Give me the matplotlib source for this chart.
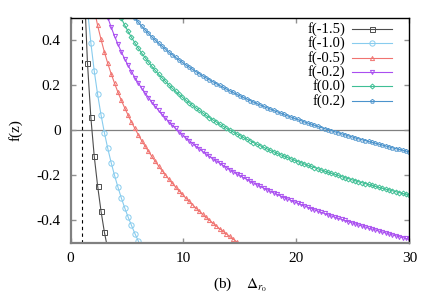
import numpy as np
import matplotlib
matplotlib.use('Agg')
import matplotlib.pyplot as plt

plt.rcParams['font.family'] = ['Liberation Serif', 'DejaVu Serif']
plt.rcParams['mathtext.fontset'] = 'stix'

# sample step along Delta_r0 and the first sample index of every curve
step = 0.3
labels = ['f(-1.5)', 'f(-1.0)', 'f(-0.5)', 'f(-0.2)', 'f(0.0)', 'f(0.2)']
start_idx = [4, 5, 7, 10, 14, 18]

f_m15 = [0.66, 0.300, 0.057, -0.116, -0.248, -0.360, -0.454, -0.530]
f_m10 = [0.540, 0.388, 0.263, 0.158, 0.068, -0.012, -0.082, -0.145, -0.202,
         -0.254, -0.302, -0.346, -0.387, -0.424, -0.460, -0.493, -0.524]
f_m05 = [0.536, 0.465, 0.403, 0.347, 0.296, 0.250, 0.208, 0.168, 0.132, 0.098,
         0.066, 0.035, 0.007, -0.021, -0.047, -0.071, -0.095, -0.117, -0.139,
         -0.160, -0.180, -0.199, -0.218, -0.236, -0.253, -0.270, -0.286, -0.302,
         -0.317, -0.332, -0.347, -0.361, -0.375, -0.388, -0.401, -0.414, -0.426,
         -0.439, -0.450, -0.462, -0.473, -0.485, -0.496, -0.506, -0.517]
f_m02 = [0.548, 0.500, 0.457, 0.417, 0.381, 0.347, 0.316, 0.287, 0.259, 0.233,
         0.209, 0.186, 0.165, 0.144, 0.124, 0.105, 0.087, 0.070, 0.053, 0.037,
         0.022, 0.007, -0.007, -0.021, -0.034, -0.047, -0.060, -0.072, -0.083,
         -0.095, -0.106, -0.117, -0.127, -0.137, -0.147, -0.157, -0.167, -0.176,
         -0.185, -0.194, -0.202, -0.211, -0.219, -0.227, -0.235, -0.243, -0.250,
         -0.258, -0.265, -0.272, -0.279, -0.286, -0.293, -0.300, -0.306, -0.312,
         -0.319, -0.325, -0.331, -0.337, -0.343, -0.349, -0.355, -0.360, -0.366,
         -0.371, -0.377, -0.382, -0.387, -0.392, -0.397, -0.402, -0.407, -0.412,
         -0.417, -0.422, -0.426, -0.431, -0.436, -0.440, -0.444, -0.449, -0.453,
         -0.457, -0.462, -0.466, -0.470, -0.474, -0.478, -0.482, -0.486]
f_00 = [0.528, 0.496, 0.466, 0.438, 0.412, 0.387, 0.364, 0.342, 0.322, 0.302,
        0.283, 0.265, 0.248, 0.232, 0.216, 0.201, 0.186, 0.172, 0.159, 0.146,
        0.133, 0.121, 0.109, 0.098, 0.087, 0.076, 0.065, 0.055, 0.045, 0.036,
        0.026, 0.017, 0.008, 0.000, -0.009, -0.017, -0.025, -0.033, -0.041,
        -0.048, -0.056, -0.063, -0.070, -0.077, -0.084, -0.091, -0.097, -0.104,
        -0.110, -0.116, -0.122, -0.128, -0.134, -0.140, -0.145, -0.151, -0.157,
        -0.162, -0.167, -0.172, -0.178, -0.183, -0.188, -0.193, -0.197, -0.202,
        -0.207, -0.212, -0.216, -0.221, -0.225, -0.230, -0.234, -0.238, -0.242,
        -0.246, -0.251, -0.255, -0.259, -0.263, -0.266, -0.270, -0.274, -0.278,
        -0.282, -0.285, -0.289]
f_02 = [0.517, 0.498, 0.479, 0.462, 0.445, 0.430, 0.414, 0.400, 0.386, 0.373,
        0.360, 0.347, 0.335, 0.323, 0.312, 0.301, 0.290, 0.280, 0.270, 0.260,
        0.250, 0.241, 0.232, 0.223, 0.215, 0.206, 0.198, 0.190, 0.182, 0.174,
        0.167, 0.159, 0.152, 0.145, 0.138, 0.131, 0.124, 0.118, 0.111, 0.105,
        0.099, 0.093, 0.087, 0.081, 0.075, 0.069, 0.063, 0.058, 0.052, 0.047,
        0.042, 0.036, 0.031, 0.026, 0.021, 0.016, 0.011, 0.006, 0.002, -0.003,
        -0.008, -0.012, -0.017, -0.021, -0.026, -0.030, -0.035, -0.039, -0.043,
        -0.047, -0.051, -0.055, -0.059, -0.063, -0.067, -0.071, -0.075, -0.079,
        -0.083, -0.086, -0.090, -0.094, -0.097]

series = [f_m15, f_m10, f_m05, f_m02, f_00, f_02]
colors = ['#4d4d4d', '#88ccee', '#f07370', '#a94ef0', '#3fbf95', '#4b93cc']
markers = ['s', 'o', '^', 'v', 'D', 'p']
msizes = [3.6, 3.8, 3.0, 3.0, 2.5, 3.0]

fig = plt.figure(figsize=(4.36, 3.05), dpi=100)
ax = fig.add_axes([0.1617, 0.2049, 0.9388 - 0.1617, 0.9426 - 0.2049])

ax.axhline(0, color='#808080', lw=0.9, zorder=1)
ax.axvline(1, color='black', lw=0.8, ls=(0, (3, 3)), zorder=1)

for lab, k0, ys, c, m, ms in zip(labels, start_idx, series, colors, markers, msizes):
    xs = step * (k0 + np.arange(len(ys)))
    ax.plot(xs, ys, color=c, lw=0.8, marker=m, ms=ms, mfc='none',
            mec=c, mew=0.7, zorder=2)

ax.set_xlim(0, 30)
ax.set_ylim(-0.5, 0.5)
ax.set_xticks([0, 10, 20, 30])
ax.set_xticklabels(['0', '10', '20', '30'])
ax.set_yticks([-0.4, -0.2, 0, 0.2, 0.4])
ax.set_yticklabels(['-0.4', '-0.2', '0', '0.2', '0.4'])
ax.tick_params(direction='in', length=3.5, width=1, color='#909090',
               top=True, right=True, labelsize=11, pad=7)

for side in ['left', 'bottom']:
    ax.spines[side].set_color('#808080')
    ax.spines[side].set_linewidth(1.6)
for side in ['top', 'right']:
    ax.spines[side].set_color('black')
    ax.spines[side].set_linewidth(1.0)

ax.set_ylabel('f(z)', fontsize=11, labelpad=10)
ax.set_xlabel(r'(b)    $\Delta_{r_0}$', fontsize=11, labelpad=8)

# gnuplot-style key: right-aligned text, then a sample line with one marker
key_y0, key_dy = 0.948, 0.0635
for i, (lab, c, m, ms) in enumerate(zip(labels, colors, markers, msizes)):
    yk = key_y0 - i * key_dy
    ax.text(0.812, yk, lab, transform=ax.transAxes, ha='right', va='center',
            fontsize=10.5)
    ax.plot([0.831, 0.949], [yk, yk], transform=ax.transAxes, color=c,
            lw=0.8, clip_on=False)
    ax.plot([0.890], [yk], transform=ax.transAxes, color=c, marker=m, ms=ms,
            mfc='none', mec=c, mew=0.7, clip_on=False)

fig.savefig('out.png', dpi=100)
